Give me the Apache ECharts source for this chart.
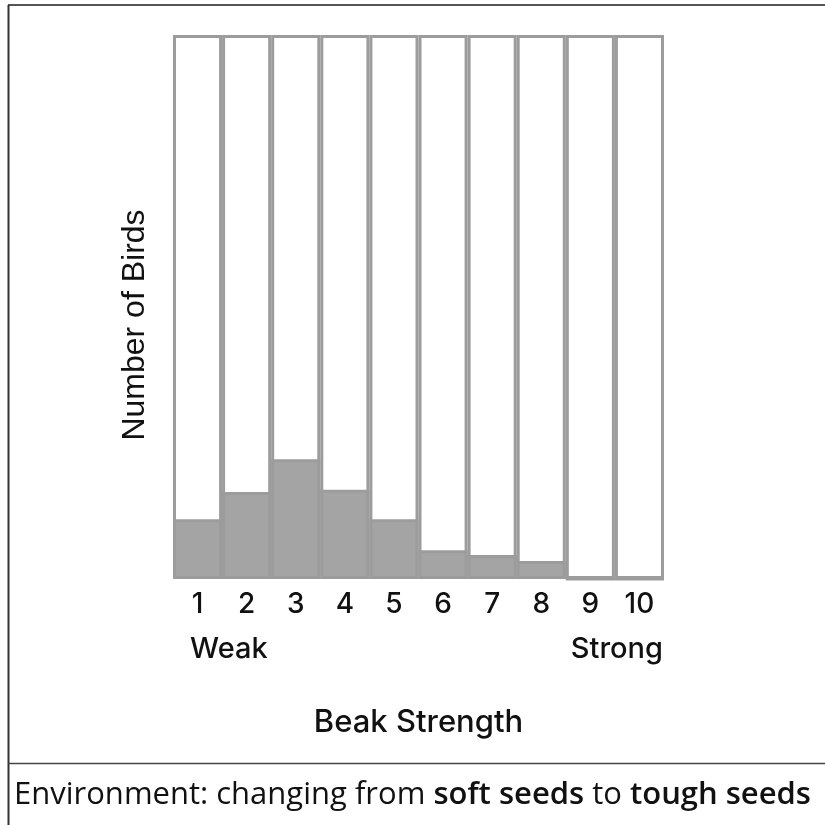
<!DOCTYPE html>
<html><head><meta charset="utf-8">
<script src="https://cdn.jsdelivr.net/npm/echarts@6/dist/echarts.min.js"></script>
<style>html,body{margin:0;padding:0;background:#fff}#c{width:825px;height:825px}</style>
</head><body><div id="c"></div>
<script>
const categories = ['1','2','3','4','5','6','7','8','9','10'];
const birdCounts = [11, 16, 22, 16.4, 11, 5.3, 4.4, 3.3, 0, 0];
const axisMax = 100;
const xAxisTitle = 'Beak Strength';
const yAxisTitle = 'Number of Birds';
const leftEndLabel = 'Weak';
const rightEndLabel = 'Strong';

const chart = echarts.init(document.getElementById('c'), null, {renderer:'canvas'});
const FONT = 'Inter';
chart.setOption({
  animation:false,
  grid:{left:173, right:161, top:35, bottom:246},
  xAxis:{type:'category', data:categories,
    axisLine:{show:false}, axisTick:{show:false},
    axisLabel:{color:'#111', fontSize:28, fontFamily:FONT, fontWeight:500, margin:12},
    name:xAxisTitle, nameLocation:'middle', nameGap:128,
    nameTextStyle:{color:'#111', fontSize:31, fontFamily:FONT, fontWeight:500}},
  yAxis:{type:'value', min:0, max:axisMax,
    axisLine:{show:false}, axisTick:{show:false}, axisLabel:{show:false}, splitLine:{show:false}},
  series:[
    {type:'bar', data:categories.map(()=>axisMax), barCategoryGap:'0%', silent:true,
     itemStyle:{color:'#fff', borderColor:'#9c9c9c', borderWidth:3}},
    {type:'bar', data:birdCounts, barGap:'-100%', barCategoryGap:'0%',
     itemStyle:{color:'#a4a4a4', borderColor:'#9c9c9c', borderWidth:3}}
  ],
  graphic:[
    {type:'line', shape:{x1:8,y1:5,x2:825,y2:5}, style:{stroke:'#555', lineWidth:2}},
    {type:'line', shape:{x1:8.5,y1:5,x2:8.5,y2:825}, style:{stroke:'#333', lineWidth:2}},
    {type:'line', shape:{x1:8,y1:763.5,x2:825,y2:763.5}, style:{stroke:'#444', lineWidth:1.5}},
    {type:'text', x:135, y:325, rotation:Math.PI/2, style:{text:yAxisTitle, fontSize:32, fontFamily:'Liberation Sans',
      fill:'#111', align:'center', verticalAlign:'middle'}},
    {type:'text', x:190, y:649, style:{text:leftEndLabel, fontSize:29, fontFamily:FONT, fontWeight:500, fill:'#111', align:'left', verticalAlign:'middle'}},
    {type:'text', x:663, y:649, style:{text:rightEndLabel, fontSize:29, fontFamily:FONT, fontWeight:500, fill:'#111', align:'right', verticalAlign:'middle'}},
    {type:'text', x:14, y:795, style:{
      text:'Environment: changing from {b|soft seeds} to {b|tough seeds}',
      fontSize:31, fontFamily:'Open Sans', fill:'#111', align:'left', verticalAlign:'middle',
      rich:{b:{fontSize:31, fontFamily:'Open Sans', fontWeight:600, fill:'#111'}}}}
  ]
});
</script></body></html>
